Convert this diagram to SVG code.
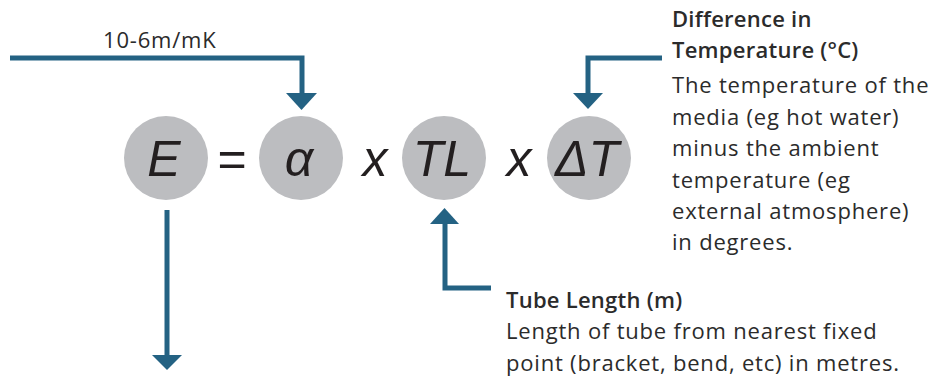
<svg xmlns="http://www.w3.org/2000/svg" width="947" height="381" viewBox="0 0 947 381">
<style>
.node circle{fill:#bcbdc0}
.sym{font-family:"Liberation Sans",Arial,sans-serif;font-style:italic;font-size:50px;fill:#231f20;text-anchor:middle}
.op{font-family:"Liberation Sans",Arial,sans-serif;font-size:50px;fill:#231f20;text-anchor:middle}
.txt{font-family:"Open Sans",sans-serif;font-size:22px;letter-spacing:0.8px;fill:#2b2b2b}
.bold{font-weight:600;letter-spacing:0.25px}
.conn path{fill:none;stroke:#246283;stroke-width:5}
.conn polygon{fill:#246283}
</style>
<rect width="947" height="381" fill="#ffffff"/>
<g id="E" class="node"><circle cx="166" cy="158" r="42"/><text class="sym" x="164" y="176">E</text></g>
<g id="alpha" class="node"><circle cx="301" cy="158" r="42"/><text class="sym" x="299" y="176">α</text></g>
<g id="TL" class="node"><circle cx="444" cy="158" r="42"/><text class="sym" x="442" y="176">TL</text></g>
<g id="dT" class="node"><circle cx="589" cy="158" r="42"/><text class="sym" x="587" y="176">ΔT</text></g>
<g id="ops">
<text class="op" x="232" y="176">=</text>
<text class="sym" x="375" y="176">x</text>
<text class="sym" x="519" y="176">x</text>
</g>
<g id="alpha-label"><text class="txt" x="103" y="48">10-6m/mK</text></g>
<g id="dT-label">
<text class="txt bold" x="672" y="27">Difference in</text>
<text class="txt bold" x="672" y="58">Temperature (°C)</text>
<text class="txt" x="672" y="93">The temperature of the</text>
<text class="txt" x="672" y="125">media (eg hot water)</text>
<text class="txt" x="672" y="156">minus the ambient</text>
<text class="txt" x="672" y="188">temperature (eg</text>
<text class="txt" x="672" y="219">external atmosphere)</text>
<text class="txt" x="672" y="250">in degrees.</text>
</g>
<g id="TL-label">
<text class="txt bold" x="506" y="308">Tube Length (m)</text>
<text class="txt" x="506" y="339">Length of tube from nearest fixed</text>
<text class="txt" x="506" y="371">point (bracket, bend, etc) in metres.</text>
</g>
<g id="connectors" class="conn">
<path d="M10,58 H302 V94"/>
<polygon points="286,93 317,93 301.5,110"/>
<path d="M662,58 H588 V94"/>
<polygon points="573,93 603,93 588,109"/>
<path d="M491,288 H445 V222"/>
<polygon points="430,224 459,224 444.5,208"/>
<path d="M167,210 V356"/>
<polygon points="152,355 182,355 167,370"/>
</g>
</svg>
